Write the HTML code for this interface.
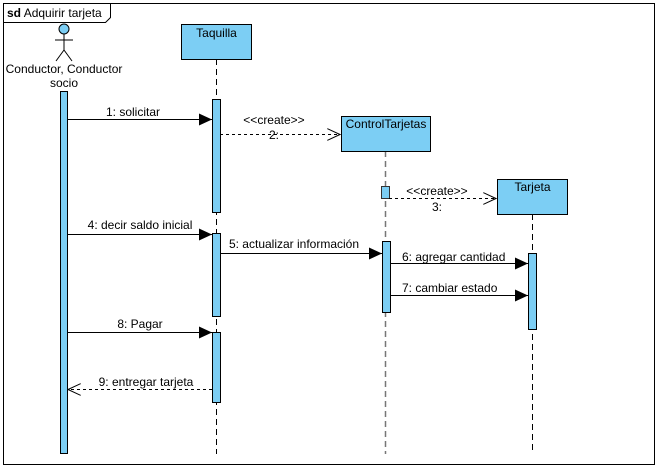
<!DOCTYPE html>
<html><head><style>
html,body{margin:0;padding:0;background:#fff;}
svg{display:block;}
text{font-family:"Liberation Sans",Arial,sans-serif;font-size:12px;fill:#000;}
</style></head><body>
<svg width="657" height="470" viewBox="0 0 657 470" xmlns="http://www.w3.org/2000/svg">
<defs>
<marker id="fa" markerWidth="14" markerHeight="12" refX="13" refY="6" orient="auto" markerUnits="userSpaceOnUse">
<path d="M0,0 L13,6 L0,12 z" fill="#000"/></marker>
<marker id="oa" markerWidth="14" markerHeight="12" refX="13" refY="6" orient="auto" markerUnits="userSpaceOnUse">
<path d="M0,0 L13,6 L0,12" fill="none" stroke="#000" stroke-width="1"/></marker>
</defs>
<rect x="3.5" y="3.5" width="651" height="461" fill="#fff" stroke="#000"/>
<path d="M3.5,22.5 H105.5 L110.5,17.5 V3.5" fill="none" stroke="#000"/>
<text x="7" y="17"><tspan font-weight="bold">sd</tspan> Adquirir tarjeta</text>

<!-- actor -->
<circle cx="64" cy="29" r="5" fill="#7ccef4" stroke="#000"/>
<line x1="64" y1="34" x2="64" y2="50" stroke="#000"/>
<line x1="55" y1="40" x2="73" y2="40" stroke="#000"/>
<line x1="64" y1="50" x2="56" y2="61" stroke="#000"/>
<line x1="64" y1="50" x2="72" y2="61" stroke="#000"/>
<text x="64" y="73" text-anchor="middle">Conductor, Conductor</text>
<text x="64" y="87" text-anchor="middle">socio</text>
<rect x="60.5" y="91.5" width="7" height="362" fill="#7ccef4" stroke="#000"/>

<!-- lifelines -->
<line x1="216.5" y1="59" x2="216.5" y2="454" stroke="#000" stroke-dasharray="6,4"/>
<line x1="385.5" y1="151" x2="385.5" y2="454" stroke="#777" stroke-width="1.5" stroke-dasharray="6,4"/>
<line x1="532.5" y1="214" x2="532.5" y2="454" stroke="#000" stroke-dasharray="6,4"/>

<rect x="181.5" y="24.5" width="70" height="35" fill="#7ccef4" stroke="#000"/>
<text x="216.5" y="37" text-anchor="middle">Taquilla</text>
<rect x="341.5" y="116.5" width="89" height="35" fill="#7ccef4" stroke="#000"/>
<text x="386" y="128" text-anchor="middle">ControlTarjetas</text>
<rect x="497.5" y="179.5" width="70" height="35" fill="#7ccef4" stroke="#000"/>
<text x="532.5" y="191" text-anchor="middle">Tarjeta</text>

<!-- activations -->
<rect x="212.5" y="99.5" width="8" height="113" fill="#7ccef4" stroke="#000"/>
<rect x="212.5" y="233.5" width="8" height="83" fill="#7ccef4" stroke="#000"/>
<rect x="212.5" y="332.5" width="8" height="70" fill="#7ccef4" stroke="#000"/>
<rect x="381.5" y="186.5" width="8" height="12" fill="#7ccef4" stroke="#333"/>
<rect x="382.5" y="241.5" width="8" height="71" fill="#7ccef4" stroke="#000"/>
<rect x="528.5" y="253.5" width="8" height="76" fill="#7ccef4" stroke="#000"/>

<!-- messages -->
<line x1="68" y1="119.5" x2="212" y2="119.5" stroke="#000" marker-end="url(#fa)"/>
<text x="133" y="116" text-anchor="middle">1: solicitar</text>
<line x1="220" y1="134.5" x2="340" y2="134.5" stroke="#000" stroke-dasharray="3,3" marker-end="url(#oa)"/>
<text x="274" y="124" text-anchor="middle" font-size="11">&lt;&lt;create&gt;&gt;</text>
<text x="274" y="139" text-anchor="middle">2:</text>

<line x1="389" y1="198.5" x2="496" y2="198.5" stroke="#000" stroke-dasharray="3,3" marker-end="url(#oa)"/>
<text x="437" y="195" text-anchor="middle" font-size="11">&lt;&lt;create&gt;&gt;</text>
<text x="437" y="211" text-anchor="middle">3:</text>

<line x1="68" y1="234.5" x2="212" y2="234.5" stroke="#000" marker-end="url(#fa)"/>
<text x="140" y="229" text-anchor="middle">4: decir saldo inicial</text>
<line x1="220" y1="253.5" x2="382" y2="253.5" stroke="#000" marker-end="url(#fa)"/>
<text x="294" y="248" text-anchor="middle">5: actualizar información</text>
<line x1="390" y1="263.5" x2="528" y2="263.5" stroke="#000" marker-end="url(#fa)"/>
<text x="402" y="261">6: agregar cantidad</text>
<line x1="390" y1="295.5" x2="528" y2="295.5" stroke="#000" marker-end="url(#fa)"/>
<text x="402" y="292">7: cambiar estado</text>
<line x1="68" y1="332.5" x2="212" y2="332.5" stroke="#000" marker-end="url(#fa)"/>
<text x="140" y="328" text-anchor="middle">8: Pagar</text>
<line x1="212" y1="389.5" x2="68" y2="389.5" stroke="#000" stroke-dasharray="3,3" marker-end="url(#oa)"/>
<text x="146" y="386" text-anchor="middle">9: entregar tarjeta</text>
</svg>
</body></html>
